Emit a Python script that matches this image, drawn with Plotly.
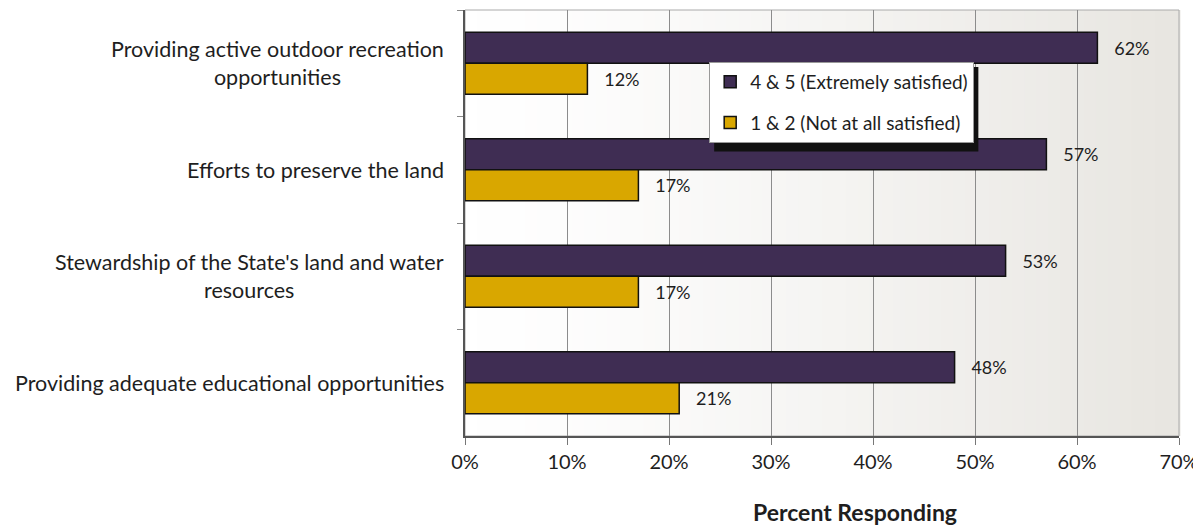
import plotly.graph_objects as go

categories = [
    "Providing active outdoor recreation<br>opportunities",
    "Efforts to preserve the land",
    "Stewardship of the State's land and water<br>resources",
    "Providing adequate educational opportunities",
]
satisfied = [62, 57, 53, 48]
not_satisfied = [12, 17, 17, 21]
x_ticks = [0, 10, 20, 30, 40, 50, 60, 70]
x_ticktext = [f"{v}%" for v in x_ticks]

FONT = "Lato"
TXT = "#1e1e1e"

fig = go.Figure()

fig.add_trace(go.Bar(
    y=categories, x=satisfied, orientation="h",
    name="4 & 5 (Extremely satisfied)", legendgroup="a",
    marker=dict(color="#3f2d53", line=dict(color="#111111", width=1.5)),
    text=satisfied, texttemplate="   %{text}%", textposition="outside",
    textfont=dict(family=FONT, size=18, color=TXT),
    cliponaxis=False,
))
fig.add_trace(go.Bar(
    y=categories, x=not_satisfied, orientation="h",
    name="1 & 2 (Not at all satisfied)", legendgroup="b",
    marker=dict(color="#d9a700", line=dict(color="#111111", width=1.5)),
    text=not_satisfied, texttemplate="   %{text}%", textposition="outside",
    textfont=dict(family=FONT, size=18, color=TXT),
    cliponaxis=False,
))

# soft white-to-grey gradient behind the bars
shapes = []
n = 60
for i in range(n):
    t = i / (n - 1)
    g = t ** 1.3
    r = int(255 - g * (255 - 232))
    gg = int(255 - g * (255 - 230))
    b = int(255 - g * (255 - 225))
    shapes.append(dict(type="rect", xref="x domain", yref="y domain",
                       x0=i / n, x1=(i + 1) / n + 0.002, y0=0, y1=1,
                       fillcolor=f"rgb({r},{gg},{b})", line=dict(width=0), layer="below"))
shapes.append(dict(type="rect", xref="x domain", yref="y domain", x0=0, x1=1, y0=0, y1=1,
                   line=dict(color="#aaaaaa", width=1), layer="below"))
# legend drop shadow
shapes.append(dict(type="rect", xref="paper", yref="paper",
                   x0=0.349, x1=0.719, y0=0.668, y1=0.866,
                   fillcolor="#111111", line=dict(width=0), layer="above"))

annotations = [
    dict(text=c, xref="paper", yref="y", x=-0.027, y=c, xanchor="right", align="center",
         showarrow=False, font=dict(family=FONT, size=21.5, color=TXT))
    for c in categories
]
annotations.append(dict(text="<b>Percent Responding</b>", xref="paper", yref="paper",
                        x=0.546, y=-0.178, yanchor="middle", showarrow=False,
                        font=dict(family=FONT, size=23, color=TXT)))

# the page body adds an 8px offset, so the figure is sized to fit the window
fig.update_layout(
    width=1193, height=517,
    margin=dict(l=457, r=19, t=2, b=89),
    paper_bgcolor="white", plot_bgcolor="rgba(0,0,0,0)",
    barmode="group", bargap=0.42, bargroupgap=0,
    font=dict(family=FONT, size=20, color=TXT),
    showlegend=True,
    legend=dict(x=0.342, y=0.878, xanchor="left", yanchor="top",
                bgcolor="white", bordercolor="#999999", borderwidth=1,
                font=dict(family=FONT, size=19, color=TXT),
                traceorder="grouped", tracegroupgap=13, itemwidth=30),
    shapes=shapes,
    annotations=annotations,
    xaxis=dict(range=[0, 70], tickvals=x_ticks, ticktext=x_ticktext,
               showgrid=True, gridcolor="#8c8c8c", gridwidth=1,
               showline=True, linecolor="#555555", linewidth=1.5,
               ticks="outside", ticklen=7, tickcolor="#777777",
               tickfont=dict(family=FONT, size=20, color=TXT),
               ticklabeloverflow="allow",
               zeroline=False, fixedrange=True),
    yaxis=dict(autorange="reversed", showticklabels=False,
               showline=True, linecolor="#555555", linewidth=1.5,
               ticks="outside", tickson="boundaries", ticklen=6, tickcolor="#888888",
               showgrid=False, fixedrange=True),
)

fig.write_html("out.html")
